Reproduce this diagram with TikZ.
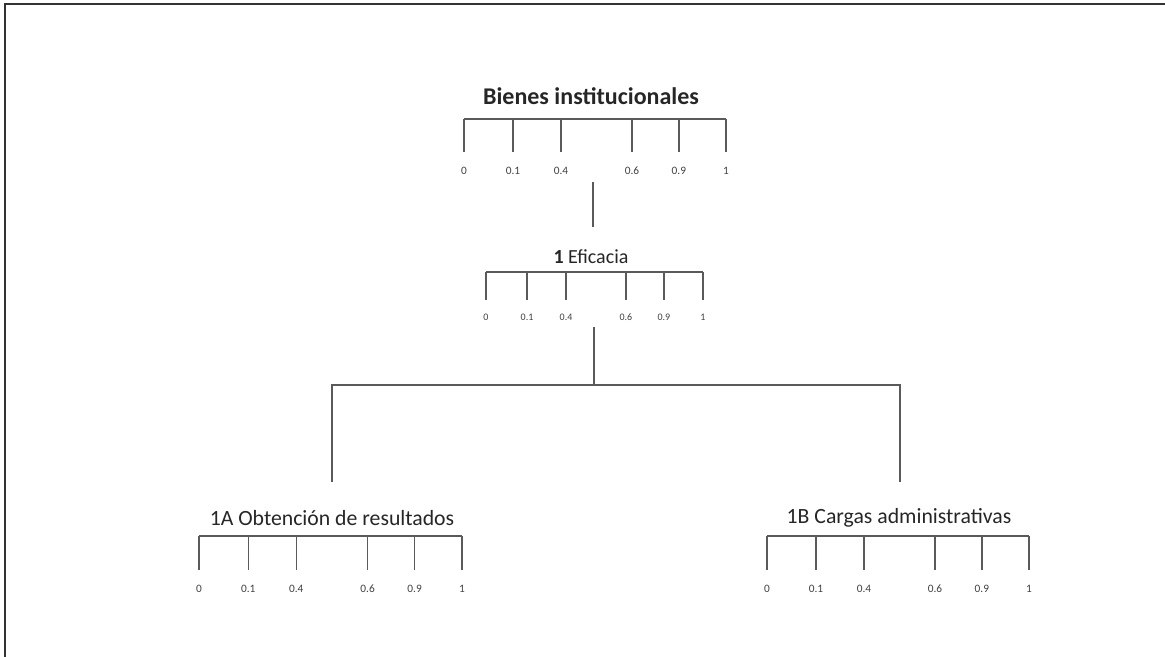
\documentclass[tikz,border=0pt]{standalone}
\usepackage{fontspec}
\setmainfont{Carlito}
\usetikzlibrary{positioning}
\definecolor{cLine}{HTML}{5A5A5A}
\definecolor{cFrame}{HTML}{333333}
\definecolor{cLbl}{HTML}{404040}
\tikzset{
  bar/.style={draw=cLine, line width=1pt},
  frameLine/.style={draw=cFrame, line width=1.1pt},
  nodeTitle/.style={font=\fontsize{16.3}{18}\selectfont, text=black!85, inner sep=1pt},
  tickLbl/.style={font=\fontsize{8.5}{9}\selectfont, text=cLbl, inner sep=0pt},
  tickLblSmall/.style={font=\fontsize{7.5}{8}\selectfont, text=cLbl, inner sep=0pt},
}

\begin{document}
\begin{tikzpicture}[x=0.75pt, y=-0.75pt]
\useasboundingbox (0,0) rectangle (1165,657);

% frame (top and left edge only)
\draw[frameLine] (5,657) -- (5,4) -- (1165,4);

% ========== BIENES INSTITUCIONALES ==========
\node[nodeTitle, font=\bfseries\fontsize{18}{20}\selectfont] (BI) at (591,96)
  {Bienes institucionales};
\begin{scope}[shift={(464,119)}]
  \draw[bar] (0,0) -- (262,0);
  \foreach \v/\f [count=\i] in {0/0,0.1/0.187,0.4/0.37,0.6/0.641,0.9/0.82,1/1} {
    \draw[bar] (\f*262,0) -- (\f*262,33);
    \node[tickLbl] (BI-\i) at (\f*262,52) {\v};
  }
\end{scope}

% ========== 1 EFICACIA ==========
\node[nodeTitle, font=\fontsize{15}{17}\selectfont] (EF) at (591,257)
  {\textbf{1} Eficacia};
\begin{scope}[shift={(486,272)}]
  \draw[bar] (0,0) -- (217,0);
  \foreach \v/\f [count=\i] in {0/0,0.1/0.189,0.4/0.369,0.6/0.645,0.9/0.82,1/1} {
    \draw[bar] (\f*217,0) -- (\f*217,28);
    \node[tickLblSmall] (EF-\i) at (\f*217,45) {\v};
  }
\end{scope}

% ========== 1A / 1B ==========
\node[nodeTitle] (OR) at (332,518) {1A Obtención de resultados};
\begin{scope}[shift={(199,536)}]
  \draw[bar] (0,0) -- (263,0);
  \foreach \v/\f [count=\i] in {0/0,0.1/0.187,0.4/0.37,0.6/0.641,0.9/0.82,1/1} {
    \draw[bar] (\f*263,0) -- (\f*263,34);
    \node[tickLbl] (OR-\i) at (\f*263,53) {\v};
  }
\end{scope}

\node[nodeTitle] (CA) at (899,518) {1B Cargas administrativas};
\begin{scope}[shift={(767,536)}]
  \draw[bar] (0,0) -- (262,0);
  \foreach \v/\f [count=\i] in {0/0,0.1/0.187,0.4/0.37,0.6/0.641,0.9/0.82,1/1} {
    \draw[bar] (\f*262,0) -- (\f*262,34);
    \node[tickLbl] (CA-\i) at (\f*262,53) {\v};
  }
\end{scope}

% ========== connectors ==========
\coordinate (BIstem) at (593,182);
\coordinate (EFtop)  at (593,227);
\draw[bar] (BIstem) -- (EFtop);

\coordinate (EFstem) at (594,327);
\coordinate (EFfork) at (594,385);
\coordinate (ORtop)  at (332,482);
\coordinate (CAtop)  at (900,482);
\draw[bar] (EFstem) -- (EFfork);
\draw[bar] (ORtop) |- (EFfork) -| (CAtop);

\end{tikzpicture}
\end{document}
